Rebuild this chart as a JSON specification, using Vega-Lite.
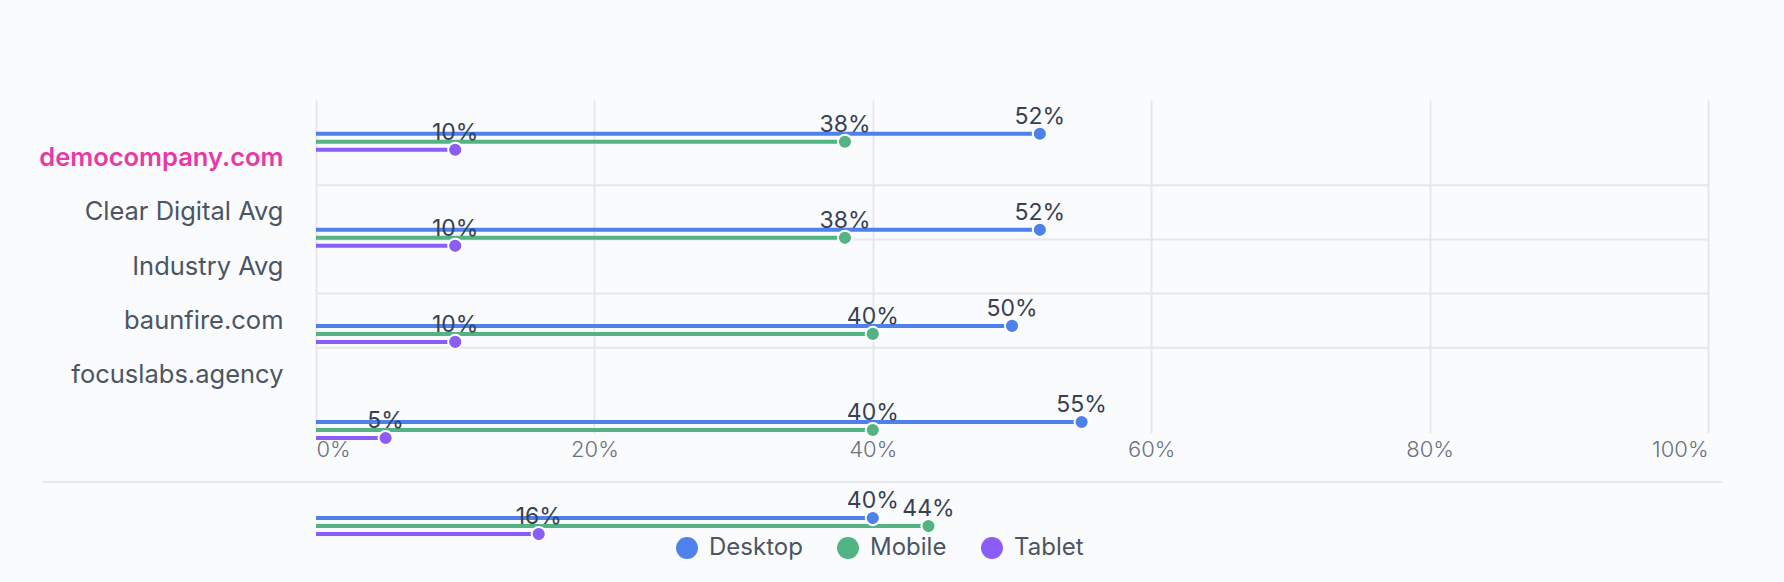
{
  "$schema": "https://vega.github.io/schema/vega-lite/v6.json",
  "autosize": {"type": "none"},
  "padding": {"left": 316, "top": 100, "right": 76, "bottom": 149},
  "width": 1392,
  "height": 333,
  "background": "#fafbfd",
  "config": {
    "view": {"stroke": null},
    "font": "Inter"
  },
  "datasets": {
    "sites": [
      {"site": "democompany.com"},
      {"site": "Clear Digital Avg"},
      {"site": "Industry Avg"},
      {"site": "baunfire.com"},
      {"site": "focuslabs.agency"}
    ],
    "shares": [
      {"site": "democompany.com", "device": "Desktop", "share": 0.52},
      {"site": "democompany.com", "device": "Mobile", "share": 0.38},
      {"site": "democompany.com", "device": "Tablet", "share": 0.10},
      {"site": "Clear Digital Avg", "device": "Desktop", "share": 0.52},
      {"site": "Clear Digital Avg", "device": "Mobile", "share": 0.38},
      {"site": "Clear Digital Avg", "device": "Tablet", "share": 0.10},
      {"site": "Industry Avg", "device": "Desktop", "share": 0.50},
      {"site": "Industry Avg", "device": "Mobile", "share": 0.40},
      {"site": "Industry Avg", "device": "Tablet", "share": 0.10},
      {"site": "baunfire.com", "device": "Desktop", "share": 0.55},
      {"site": "baunfire.com", "device": "Mobile", "share": 0.40},
      {"site": "baunfire.com", "device": "Tablet", "share": 0.05},
      {"site": "focuslabs.agency", "device": "Desktop", "share": 0.40},
      {"site": "focuslabs.agency", "device": "Mobile", "share": 0.44},
      {"site": "focuslabs.agency", "device": "Tablet", "share": 0.16}
    ]
  },
  "resolve": {"scale": {"y": "independent"}, "axis": {"y": "independent"}},
  "layer": [
    {
      "data": {"name": "sites"},
      "transform": [{"filter": "datum.site !== 'democompany.com'"}],
      "mark": {"type": "rule", "color": "#e5e7eb", "strokeWidth": 2},
      "encoding": {
        "y": {
          "field": "site", "type": "nominal", "bandPosition": 0,
          "scale": {"type": "band", "domain": ["democompany.com", "Clear Digital Avg", "Industry Avg", "baunfire.com", "focuslabs.agency"], "paddingInner": 0, "paddingOuter": 0.57, "align": 0.5},
          "axis": {
            "title": null, "domain": false, "ticks": false, "grid": false,
            "labelPadding": 33, "labelFontSize": 25.5, "labelFont": "Inter", "labelLimit": 600,
            "labelColor": {"condition": {"test": "datum.value === 'democompany.com'", "value": "#e73aa6"}, "value": "#4b5563"},
            "labelFontWeight": {"condition": {"test": "datum.value === 'democompany.com'", "value": 600}, "value": 400}
          }
        }
      }
    },
    {
      "data": {"values": [{}]},
      "mark": {"type": "rule", "color": "#e5e7eb", "strokeWidth": 2},
      "encoding": {
        "x": {"datum": -0.196, "type": "quantitative", "scale": {"domain": [0, 1], "nice": false, "zero": true},
          "axis": {"title": null, "values": [0, 0.2, 0.4, 0.6, 0.8, 1], "format": ".0%", "grid": true, "gridColor": "#e5e7eb", "gridWidth": 2, "domain": false, "ticks": false, "labelFlush": true, "labelFontSize": 22, "labelFont": "Inter", "labelFontWeight": 300, "labelColor": "#6b7280", "labelPadding": 6}},
        "x2": {"datum": 1.01},
        "y": {"datum": -0.147, "type": "quantitative", "scale": {"domain": [0, 1], "nice": false, "zero": false}, "axis": null}
      }
    },
    {
      "data": {"name": "shares"},
      "mark": {"type": "rule", "strokeWidth": 4},
      "encoding": {
        "y": {"field": "site", "type": "nominal", "scale": {"type": "band", "domain": ["democompany.com", "Clear Digital Avg", "Industry Avg", "baunfire.com", "focuslabs.agency"], "paddingInner": 0, "paddingOuter": 0, "align": 0, "range": [0, 480.4]}, "axis": null},
        "yOffset": {"field": "device", "type": "nominal", "scale": {"type": "band", "domain": ["Desktop", "Mobile", "Tablet"], "paddingInner": 0, "paddingOuter": 0, "range": [29.75, 53.75]}},
        "x": {"field": "share", "type": "quantitative", "scale": {"domain": [0, 1], "nice": false, "zero": true},
          "axis": {"title": null, "values": [0, 0.2, 0.4, 0.6, 0.8, 1], "format": ".0%", "grid": true, "gridColor": "#e5e7eb", "gridWidth": 2, "domain": false, "ticks": false, "labelFlush": true, "labelFontSize": 22, "labelFont": "Inter", "labelFontWeight": 300, "labelColor": "#6b7280", "labelPadding": 6}},
        "x2": {"datum": 0},
        "color": {"field": "device", "type": "nominal", "scale": {"domain": ["Desktop", "Mobile", "Tablet"], "range": ["#4e81ec", "#52b483", "#8b5cf6"]},
          "legend": {"title": null, "orient": "none", "legendX": 359, "legendY": 436, "direction": "horizontal", "symbolType": "circle", "symbolSize": 480, "symbolStrokeWidth": 0, "symbolOpacity": 1, "labelFontSize": 24, "labelFont": "Inter", "labelColor": "#4b5563", "labelOffset": 10, "columnPadding": 33, "padding": 0}}
      }
    },
    {
      "data": {"name": "shares"},
      "mark": {"type": "point", "filled": true, "stroke": "#ffffff", "strokeWidth": 2, "opacity": 1},
      "encoding": {
        "y": {"field": "site", "type": "nominal", "scale": {"type": "band", "domain": ["democompany.com", "Clear Digital Avg", "Industry Avg", "baunfire.com", "focuslabs.agency"], "paddingInner": 0, "paddingOuter": 0, "align": 0, "range": [0, 480.4]}, "axis": null},
        "yOffset": {"field": "device", "type": "nominal", "scale": {"type": "band", "domain": ["Desktop", "Mobile", "Tablet"], "paddingInner": 0, "paddingOuter": 0, "range": [29.75, 53.75]}},
        "x": {"field": "share", "type": "quantitative", "scale": {"domain": [0, 1], "nice": false, "zero": true},
          "axis": {"title": null, "values": [0, 0.2, 0.4, 0.6, 0.8, 1], "format": ".0%", "grid": true, "gridColor": "#e5e7eb", "gridWidth": 2, "domain": false, "ticks": false, "labelFlush": true, "labelFontSize": 22, "labelFont": "Inter", "labelFontWeight": 300, "labelColor": "#6b7280", "labelPadding": 6}},
        "size": {"value": 200},
        "color": {"field": "device", "type": "nominal", "scale": {"domain": ["Desktop", "Mobile", "Tablet"], "range": ["#4e81ec", "#52b483", "#8b5cf6"]}, "legend": null}
      }
    },
    {
      "data": {"name": "shares"},
      "mark": {"type": "text", "fontSize": 23, "color": "#374151", "align": "center", "baseline": "alphabetic", "dy": -10},
      "encoding": {
        "y": {"field": "site", "type": "nominal", "scale": {"type": "band", "domain": ["democompany.com", "Clear Digital Avg", "Industry Avg", "baunfire.com", "focuslabs.agency"], "paddingInner": 0, "paddingOuter": 0, "align": 0, "range": [0, 480.4]}, "axis": null},
        "yOffset": {"field": "device", "type": "nominal", "scale": {"type": "band", "domain": ["Desktop", "Mobile", "Tablet"], "paddingInner": 0, "paddingOuter": 0, "range": [29.75, 53.75]}},
        "x": {"field": "share", "type": "quantitative", "scale": {"domain": [0, 1], "nice": false, "zero": true},
          "axis": {"title": null, "values": [0, 0.2, 0.4, 0.6, 0.8, 1], "format": ".0%", "grid": true, "gridColor": "#e5e7eb", "gridWidth": 2, "domain": false, "ticks": false, "labelFlush": true, "labelFontSize": 22, "labelFont": "Inter", "labelFontWeight": 300, "labelColor": "#6b7280", "labelPadding": 6}},
        "text": {"field": "share", "type": "quantitative", "format": ".0%"}
      }
    }
  ]
}
